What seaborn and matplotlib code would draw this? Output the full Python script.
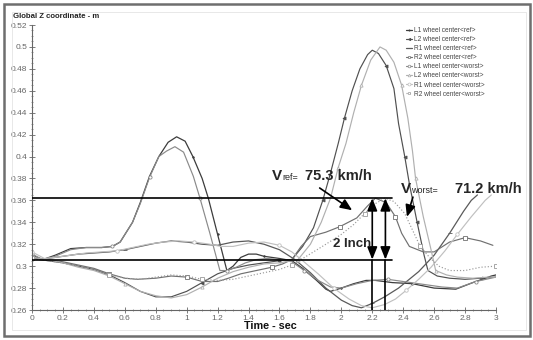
import matplotlib
matplotlib.use("Agg")
import numpy as np
import pandas as pd
import seaborn as sns
import matplotlib.pyplot as plt
from matplotlib.lines import Line2D
from matplotlib.patches import Rectangle
from matplotlib.ticker import MultipleLocator, FuncFormatter

# ---------------- data ----------------
l1_ref_t = [0, 0.07, 0.15, 0.25, 0.35, 0.45, 0.52, 0.57, 0.65, 0.70, 0.76, 0.82, 0.88, 0.935, 0.99, 1.04, 1.10, 1.14, 1.20, 1.26,
            1.30, 1.35, 1.40, 1.45, 1.50, 1.60, 1.68, 1.75, 1.84, 1.90, 1.93, 2.00, 2.08, 2.16, 2.22, 2.33, 2.46, 2.60, 2.74, 2.85, 2.97, 3.0]
l1_ref_z = [0.310, 0.306, 0.310, 0.316, 0.317, 0.317, 0.318, 0.322, 0.340, 0.358, 0.382, 0.400, 0.413, 0.418, 0.414, 0.400, 0.380, 0.362, 0.329, 0.296,
            0.300, 0.308, 0.311, 0.311, 0.309, 0.307, 0.305, 0.298, 0.287, 0.279, 0.277, 0.280, 0.284, 0.287, 0.287, 0.285, 0.284, 0.280, 0.279, 0.285, 0.291, 0.292]

l1_worst_t = [0, 0.07, 0.15, 0.25, 0.35, 0.45, 0.52, 0.57, 0.65, 0.70, 0.76, 0.82, 0.87, 0.924, 0.98, 1.043, 1.086, 1.15, 1.215,
              1.26, 1.32, 1.38, 1.45, 1.52, 1.60, 1.68, 1.76, 1.85, 1.93, 2.00, 2.10, 2.20, 2.30, 2.40, 2.55, 2.65, 2.75, 2.87, 3.0]
l1_worst_z = [0.311, 0.306, 0.309, 0.315, 0.317, 0.317, 0.318, 0.322, 0.340, 0.357, 0.381, 0.400, 0.405, 0.409, 0.404, 0.382, 0.362, 0.330, 0.296,
              0.296, 0.299, 0.303, 0.306, 0.307, 0.306, 0.304, 0.296, 0.287, 0.281, 0.280, 0.284, 0.287, 0.288, 0.286, 0.283, 0.281, 0.280, 0.286, 0.290]

l2_ref_t = [0, 0.1, 0.2, 0.3, 0.4, 0.5, 0.6, 0.7, 0.8, 0.9, 1.0, 1.1, 1.2, 1.3, 1.4, 1.5, 1.6, 1.68, 1.75, 1.82, 1.88, 1.93, 1.98, 2.02,
            2.07, 2.12, 2.17, 2.20, 2.24, 2.29, 2.34, 2.37, 2.41, 2.44, 2.49, 2.535, 2.56, 2.62, 2.70, 2.80, 2.90, 3.0]
l2_ref_z = [0.307, 0.305, 0.303, 0.300, 0.297, 0.292, 0.285, 0.277, 0.272, 0.272, 0.277, 0.285, 0.293, 0.298, 0.301, 0.303, 0.305, 0.306, 0.318, 0.335, 0.360, 0.385, 0.412, 0.435,
            0.460, 0.480, 0.493, 0.497, 0.494, 0.483, 0.462, 0.430, 0.400, 0.375, 0.340, 0.310, 0.296, 0.291, 0.289, 0.288, 0.289, 0.290]

l2_worst_t = [0, 0.1, 0.2, 0.3, 0.4, 0.5, 0.6, 0.7, 0.8, 0.9, 1.0, 1.1, 1.2, 1.3, 1.4, 1.5, 1.6, 1.72, 1.80, 1.87, 1.93, 1.98, 2.03,
              2.08, 2.13, 2.19, 2.25, 2.29, 2.34, 2.39, 2.43, 2.46, 2.48, 2.53, 2.58, 2.61, 2.68, 2.75, 2.85, 2.95, 3.0]
l2_worst_z = [0.308, 0.306, 0.303, 0.299, 0.296, 0.291, 0.284, 0.277, 0.273, 0.271, 0.274, 0.281, 0.289, 0.295, 0.299, 0.302, 0.303, 0.306, 0.320, 0.340, 0.362, 0.390, 0.412,
              0.440, 0.465, 0.488, 0.500, 0.497, 0.486, 0.465, 0.435, 0.405, 0.380, 0.345, 0.315, 0.296, 0.292, 0.290, 0.289, 0.290, 0.290]

r1_ref_t = [0, 0.05, 0.1, 0.2, 0.3, 0.4, 0.5, 0.6, 0.7, 0.8, 0.9, 1.0, 1.1, 1.2, 1.3, 1.4, 1.5, 1.6, 1.7, 1.8, 1.9, 2.0, 2.07, 2.13,
            2.20, 2.28, 2.37, 2.50, 2.60, 2.70, 2.79, 2.84, 2.88]
r1_ref_z = [0.308, 0.306, 0.307, 0.309, 0.311, 0.312, 0.313, 0.315, 0.318, 0.321, 0.323, 0.322, 0.320, 0.319, 0.322, 0.323, 0.320, 0.315, 0.306, 0.294, 0.280, 0.269, 0.264, 0.262,
            0.266, 0.272, 0.280, 0.295, 0.310, 0.330, 0.350, 0.360, 0.365]

r1_worst_t = [0, 0.08, 0.15, 0.25, 0.35, 0.45, 0.55, 0.65, 0.75, 0.85, 0.95, 1.05, 1.15, 1.22, 1.30, 1.40, 1.50, 1.60, 1.68, 1.75, 1.85,
              1.95, 2.05, 2.13, 2.20, 2.28, 2.35, 2.42, 2.50, 2.58, 2.67, 2.75, 2.84, 2.93, 2.97]
r1_worst_z = [0.313, 0.307, 0.308, 0.310, 0.312, 0.313, 0.314, 0.317, 0.320, 0.322, 0.323, 0.322, 0.320, 0.318, 0.318, 0.321, 0.322, 0.319, 0.313, 0.305, 0.293,
              0.280, 0.270, 0.264, 0.262, 0.265, 0.270, 0.278, 0.288, 0.299, 0.314, 0.329, 0.345, 0.360, 0.365]

r2_ref_t = [0, 0.1, 0.2, 0.3, 0.4, 0.5, 0.6, 0.68, 0.8, 0.9, 1.0, 1.1, 1.2, 1.27, 1.35, 1.45, 1.55, 1.62, 1.68, 1.74, 1.80, 1.90, 1.99,
            2.10, 2.17, 2.22, 2.29, 2.35, 2.39, 2.44, 2.53, 2.60, 2.70, 2.80, 2.90, 2.98]
r2_ref_z = [0.307, 0.306, 0.304, 0.301, 0.298, 0.293, 0.289, 0.288, 0.289, 0.291, 0.290, 0.286, 0.286, 0.289, 0.293, 0.296, 0.299, 0.302, 0.306, 0.318, 0.327, 0.331, 0.336,
            0.344, 0.355, 0.362, 0.358, 0.345, 0.330, 0.318, 0.313, 0.313, 0.322, 0.326, 0.323, 0.319]

r2_worst_t = [0, 0.1, 0.2, 0.3, 0.4, 0.5, 0.6, 0.7, 0.8, 0.9, 1.0, 1.1, 1.2, 1.3, 1.4, 1.5, 1.6, 1.68, 1.75, 1.82, 1.90, 2.00, 2.08,
              2.15, 2.22, 2.28, 2.34, 2.41, 2.46, 2.51, 2.57, 2.63, 2.70, 2.80, 2.90, 3.0]
r2_worst_z = [0.307, 0.305, 0.303, 0.300, 0.297, 0.292, 0.289, 0.288, 0.290, 0.292, 0.291, 0.288, 0.287, 0.288, 0.291, 0.294, 0.297, 0.301, 0.307, 0.313, 0.320, 0.329, 0.338,
              0.348, 0.357, 0.362, 0.359, 0.348, 0.333, 0.318, 0.308, 0.300, 0.296, 0.296, 0.299, 0.300]

legend_labels = ["L1 wheel center<ref>", "L2 wheel center<ref>", "R1 wheel center<ref>", "R2 wheel center<ref>",
                 "L1 wheel center<worst>", "L2 wheel center<worst>", "R1 wheel center<worst>", "R2 wheel center<worst>"]

level_low = 0.306      # "2 inch" reference levels
level_high = 0.362
arrow_times = [2.2, 2.285]
speed_ref = "75.3 km/h"
speed_worst = "71.2 km/h"

# ---------------- style ----------------
sns.set_theme(style="white")
plt.rcParams["font.family"] = ["Liberation Sans", "DejaVu Sans"]

W, H = 533, 340
fig = plt.figure(figsize=(W / 100, H / 100), dpi=100)
fig.patch.set_facecolor("white")

def fx(px):
    return px / W

def fy(py):
    return 1 - py / H

# outer frames
fig.patches.append(Rectangle((fx(4), fy(336)), fx(526), 332 / H, transform=fig.transFigure,
                             fill=False, edgecolor="#6e6e6e", lw=1.8, zorder=0))
fig.patches.append(Rectangle((fx(12), fy(330)), fx(514), 318 / H, transform=fig.transFigure,
                             fill=False, edgecolor="#e4e4e4", lw=0.6, zorder=0))

ax = fig.add_axes([32 / W, 30 / H, 464 / W, 285 / H])
ax.set_facecolor("none")

series = [
    # (t, z, label, color, lw, ls, marker, mfc, ms)
    (l1_ref_t, l1_ref_z, legend_labels[0], "#3c3c3c", 0.9, "-", ".", "#3c3c3c", 2.2),
    (l2_ref_t, l2_ref_z, legend_labels[1], "#505050", 0.85, "-", "<", "#505050", 2.2),
    (r1_ref_t, r1_ref_z, legend_labels[2], "#5a5a5a", 0.9, "-", "_", "#5a5a5a", 2.6),
    (r2_ref_t, r2_ref_z, legend_labels[3], "#707070", 0.85, "-", "s", "white", 2.3),
    (l1_worst_t, l1_worst_z, legend_labels[4], "#8a8a8a", 0.85, "-", "o", "white", 2.3),
    (l2_worst_t, l2_worst_z, legend_labels[5], "#b0b0b0", 0.85, "-", "^", "white", 2.3),
    (r1_worst_t, r1_worst_z, legend_labels[6], "#c0c0c0", 0.85, "-", "o", "white", 2.5),
    (r2_worst_t, r2_worst_z, legend_labels[7], "#9a9a9a", 0.85, ":", "s", "white", 2.3),
]

handles = []
for i, (t, z, lab, col, lw, ls, mk, mfc, ms) in enumerate(series):
    df = pd.DataFrame({"t": t, "z": z})
    sns.lineplot(data=df, x="t", y="z", ax=ax, color=col, linewidth=lw, linestyle=ls,
                 marker=mk, markersize=ms, markerfacecolor=mfc, markeredgecolor=col,
                 markeredgewidth=0.6, markevery=0.15 + 0.01 * (i % 3), estimator=None,
                 sort=False, legend=False)
    handles.append(Line2D([], [], color=col, lw=lw, ls=ls, marker=mk, markersize=ms - 0.4,
                          markerfacecolor=mfc, markeredgecolor=col, markeredgewidth=0.5))

# reference levels and arrows
ax.plot([0, 2.33], [level_high, level_high], color="black", lw=1.2, zorder=5)
ax.plot([0, 2.33], [level_low, level_low], color="black", lw=1.2, zorder=5)
for tx in arrow_times:
    ax.plot([tx, tx], [0.26, level_low], color="black", lw=1.2, zorder=5)
    ax.annotate("", xy=(tx, level_high), xytext=(tx, level_low),
                arrowprops=dict(arrowstyle="<|-|>,head_length=0.75,head_width=0.3", color="black",
                                lw=1.2, shrinkA=0, shrinkB=0, mutation_scale=10), zorder=6)

ax.annotate("", xy=(2.07, 0.351), xytext=(1.86, 0.3713),
            arrowprops=dict(arrowstyle="-|>,head_length=0.7,head_width=0.3", color="black",
                            lw=1.2, shrinkA=0, shrinkB=0, mutation_scale=10), zorder=6)
ax.annotate("", xy=(2.424, 0.345), xytext=(2.463, 0.363),
            arrowprops=dict(arrowstyle="-|>,head_length=0.7,head_width=0.3", color="black",
                            lw=1.2, shrinkA=0, shrinkB=0, mutation_scale=10), zorder=6)

# axes
ax.set_xlim(0, 3)
ax.set_ylim(0.26, 0.52)
ax.set_xlabel("")
ax.set_ylabel("")
for s in ["top", "right"]:
    ax.spines[s].set_visible(False)
for s in ["left", "bottom"]:
    ax.spines[s].set_color("#666666")
    ax.spines[s].set_linewidth(0.8)
ax.xaxis.set_major_locator(MultipleLocator(0.2))
ax.xaxis.set_minor_locator(MultipleLocator(0.05))
ax.yaxis.set_major_locator(MultipleLocator(0.02))
ax.yaxis.set_minor_locator(MultipleLocator(0.005))
fmt = FuncFormatter(lambda v, p: f"{round(v, 2):g}")
ax.xaxis.set_major_formatter(fmt)
ax.yaxis.set_major_formatter(fmt)
ax.tick_params(which="major", direction="inout", length=4, width=0.6, color="#666666",
               labelsize=6, labelcolor="#666666", pad=1.5)
ax.tick_params(which="minor", direction="inout", length=2, width=0.5, color="#777777")
ax.tick_params(axis="x", which="both", bottom=True)
ax.tick_params(axis="y", which="both", left=True)
ax.grid(False)

leg = ax.legend(handles=handles, labels=legend_labels, loc="upper left",
                bbox_to_anchor=(0.805, 0.993), frameon=False, fontsize=4.7,
                handlelength=1.0, handletextpad=0.3, labelspacing=0.32, borderpad=0,
                borderaxespad=0)
for txt in leg.get_texts():
    txt.set_color("#444444")

# texts
fig.text(fx(13), fy(17), "Global Z coordinate - m", fontsize=5.6, fontweight="bold",
         color="#222222", va="center", ha="left")
fig.text(fx(270), fy(326), "Time - sec", fontsize=7.8, fontweight="bold",
         color="#111111", va="center", ha="center")

fig.text(fx(282), fy(180), "V", fontsize=11, fontweight="bold", ha="right", va="baseline")
fig.text(fx(282), fy(180), "ref=", fontsize=6.5, ha="left", va="baseline")
fig.text(fx(305), fy(180), speed_ref, fontsize=10.5, fontweight="bold", ha="left", va="baseline")

fig.text(fx(411), fy(193), "V", fontsize=11, fontweight="bold", ha="right", va="baseline")
fig.text(fx(411), fy(193), "worst=", fontsize=6.5, ha="left", va="baseline")
fig.text(fx(455), fy(193), speed_worst, fontsize=10.5, fontweight="bold", ha="left", va="baseline")

fig.text(fx(352), fy(247), "2 Inch", fontsize=9.5, fontweight="bold", ha="center", va="baseline")

fig.savefig("out.png", dpi=100, facecolor="white")
